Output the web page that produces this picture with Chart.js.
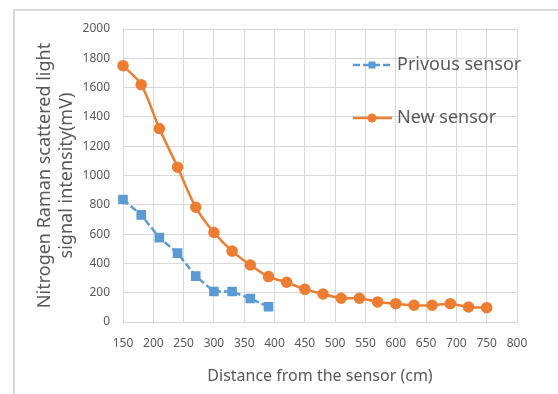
<!DOCTYPE html>
<html>
<head>
<meta charset="utf-8">
<script src="https://cdn.jsdelivr.net/npm/chart.js@4"></script>
<style>
  body { margin: 0; background: #fff; }
  #wrap { position: relative; width: 558px; height: 394px; }
  #frame { position: absolute; left: 13px; top: 9px; width: 560px; height: 400px; border-left: 2px solid #d9d9d9; border-top: 2px solid #d9d9d9; }
  canvas { position: absolute; left: 0; top: 0; }
</style>
</head>
<body>
<div id="wrap">
  <div id="frame"></div>
  <canvas id="sensorChart" width="558" height="394"></canvas>
</div>
<script>
// distances (cm)
const distNew = [150, 180, 210, 240, 270, 300, 330, 360, 390, 420, 450, 480, 510, 540, 570, 600, 630, 660, 690, 720, 750];
const distPrev = [150, 180, 210, 240, 270, 300, 330, 360, 390];
// signal (mV)
const newSensor = [1750, 1620, 1320, 1057, 783, 611, 484, 389, 310, 271, 223, 191, 162, 162, 137, 125, 114, 114, 125, 102, 98];
const prevSensor = [836, 731, 576, 470, 313, 208, 208, 160, 104];
const labelPrev = "Privous sensor";
const labelNew = "New sensor";

const FONT = "'Noto Sans', sans-serif";

function toPoints(xs, ys) {
    return xs.map((x, i) => ({ x: x, y: ys[i] }));
}

// legend drawn inside the plot, like the original
const insideLegend = {
    id: 'insideLegend',
    afterDraw(chart) {
        const ctx = chart.ctx;
        const items = [
            { text: labelPrev, color: '#5B9BD5', dash: [7, 3], style: 'rect', y: 65 },
            { text: labelNew, color: '#ED7D31', dash: [], style: 'circle', y: 118 }
        ];
        ctx.save();
        items.forEach(it => {
            ctx.strokeStyle = it.color;
            ctx.fillStyle = it.color;
            ctx.lineWidth = 2.5;
            ctx.setLineDash(it.dash);
            ctx.beginPath();
            ctx.moveTo(353, it.y);
            ctx.lineTo(392, it.y);
            ctx.stroke();
            ctx.setLineDash([]);
            if (it.style == 'rect') {
                ctx.fillRect(368.5, it.y - 3.5, 7, 7);
            } else {
                ctx.beginPath();
                ctx.arc(372, it.y, 4.5, 0, Math.PI * 2);
                ctx.fill();
            }
            ctx.fillStyle = '#595959';
            ctx.font = '18px ' + FONT;
            ctx.textBaseline = 'middle';
            ctx.fillText(it.text, 397, it.y);
        });
        ctx.restore();
    }
};

const ctx = document.getElementById('sensorChart').getContext('2d');
window.sensorChart = new Chart(ctx, {
    type: 'line',
    data: {
        datasets: [{
            label: labelPrev,
            data: toPoints(distPrev, prevSensor),
            borderColor: '#5B9BD5',
            backgroundColor: '#5B9BD5',
            borderWidth: 2.5,
            borderDash: [7, 3],
            pointStyle: 'rect',
            pointRadius: 5,
            tension: 0,
            clip: false
        }, {
            label: labelNew,
            data: toPoints(distNew, newSensor),
            borderColor: '#ED7D31',
            backgroundColor: '#ED7D31',
            borderWidth: 2.5,
            pointStyle: 'circle',
            pointRadius: 4.5,
            tension: 0.3,
            clip: false
        }]
    },
    options: {
        responsive: false,
        animation: false,
        layout: { padding: { top: 29, right: 41, left: 0, bottom: 0 } },
        plugins: {
            legend: { display: false },
            tooltip: { enabled: false }
        },
        scales: {
            x: {
                type: 'linear',
                min: 150,
                max: 800,
                afterFit: s => { s.height = 72; },
                ticks: { stepSize: 50, padding: 14, color: '#595959', font: { family: FONT, size: 12 }, callback: v => String(v) },
                grid: { color: '#d9d9d9', drawTicks: false },
                border: { color: '#d9d9d9' },
                title: {
                    display: true,
                    text: 'Distance from the sensor (cm)',
                    color: '#595959',
                    font: { family: FONT, size: 16 },
                    padding: { top: 8, bottom: 8 }
                }
            },
            y: {
                min: 0,
                max: 2000,
                afterFit: s => { s.width = 123; },
                ticks: { stepSize: 200, padding: 13, color: '#595959', font: { family: FONT, size: 12 }, callback: v => String(v) },
                grid: { color: '#d9d9d9', drawTicks: false },
                border: { color: '#d9d9d9' },
                title: {
                    display: true,
                    text: ['Nitrogen Raman scattered light', 'signal intensity(mV)'],
                    color: '#595959',
                    font: { family: FONT, size: 18, lineHeight: 1.22 },
                    padding: { top: 34, bottom: 0 }
                }
            }
        }
    },
    plugins: [insideLegend]
});
</script>
</body>
</html>
